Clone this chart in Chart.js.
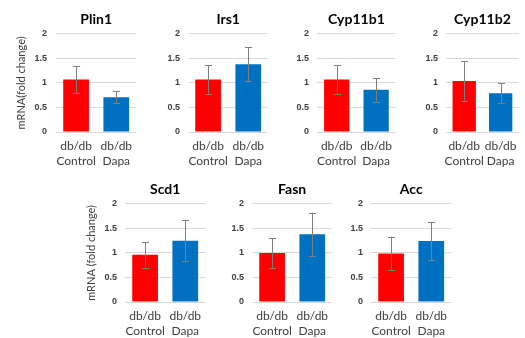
<!DOCTYPE html>
<html>
<head>
<meta charset="utf-8">
<script src="https://cdn.jsdelivr.net/npm/chart.js@4/dist/chart.umd.min.js"></script>
<style>
  html, body { margin: 0; padding: 0; background: #ffffff; }
  #wrap { position: relative; width: 525px; height: 338px; overflow: hidden; }
  #wrap canvas { position: absolute; }
</style>
</head>
<body>
<div id="wrap"></div>
<script>
// Gene expression: db/db Control vs db/db Dapa (mean ± SD, fold change)
const genes        = ['Plin1', 'Irs1', 'Cyp11b1', 'Cyp11b2', 'Scd1', 'Fasn', 'Acc'];
const groups       = [['db/db', 'Control'], ['db/db', 'Dapa']];
const controlMeans = [1.07, 1.07, 1.07, 1.04, 0.96, 1.00, 0.99];
const controlErrs  = [0.28, 0.29, 0.29, 0.40, 0.26, 0.30, 0.34];
const dapaMeans    = [0.71, 1.38, 0.86, 0.79, 1.25, 1.38, 1.24];
const dapaErrs     = [0.12, 0.35, 0.24, 0.20, 0.41, 0.44, 0.39];
const yTicks       = [0, 0.5, 1, 1.5, 2];
const yTitles      = ['mRNA(fold change)', null, null, null, 'mRNA (fold change)', null, null];

// Panel placement: canvas left/top, width, y-axis width, tick padding
const panels = [
  { left: 0,   top: 0,   width: 140, axisW: 56, tickPad: 9 },
  { left: 150, top: 0,   width: 122, axisW: 38, tickPad: 8 },
  { left: 279, top: 0,   width: 121, axisW: 38, tickPad: 8 },
  { left: 408, top: 0,   width: 117, axisW: 38, tickPad: 8 },
  { left: 70,  top: 170, width: 139, axisW: 55, tickPad: 8 },
  { left: 214, top: 170, width: 122, axisW: 38, tickPad: 8 },
  { left: 333, top: 170, width: 122, axisW: 38, tickPad: 8 }
];

const RED = '#FF0000';
const BLUE = '#0070C0';
const TEXT = '#404040';

// Draws the SD whiskers from each bar's stored error values
const errorBars = {
  id: 'errorBars',
  afterDatasetsDraw(chart) {
    const ctx = chart.ctx;
    const yScale = chart.scales.y;
    const ds = chart.data.datasets[0];
    const meta = chart.getDatasetMeta(0);
    ctx.save();
    ctx.strokeStyle = '#7f7f7f';
    ctx.lineWidth = 1;
    meta.data.forEach((bar, i) => {
      const v = ds.data[i];
      const e = ds.errors[i];
      const x = Math.round(bar.x) + 0.5;
      const yTop = yScale.getPixelForValue(v + e);
      const yBot = yScale.getPixelForValue(v - e);
      ctx.beginPath();
      ctx.moveTo(x, yTop);
      ctx.lineTo(x, yBot);
      ctx.moveTo(x - 3.5, Math.round(yTop) + 0.5);
      ctx.lineTo(x + 3.5, Math.round(yTop) + 0.5);
      ctx.moveTo(x - 3.5, Math.round(yBot) + 0.5);
      ctx.lineTo(x + 3.5, Math.round(yBot) + 0.5);
      ctx.stroke();
    });
    ctx.restore();
  }
};

const wrap = document.getElementById('wrap');

genes.forEach((gene, i) => {
  const p = panels[i];
  const canvas = document.createElement('canvas');
  canvas.width = p.width;
  canvas.height = 170;
  canvas.style.left = p.left + 'px';
  canvas.style.top = p.top + 'px';
  canvas.style.width = p.width + 'px';
  canvas.style.height = '170px';
  wrap.appendChild(canvas);

  new Chart(canvas, {
    type: 'bar',
    data: {
      labels: groups,
      datasets: [{
        data: [controlMeans[i], dapaMeans[i]],
        errors: [controlErrs[i], dapaErrs[i]],
        backgroundColor: [RED, BLUE],
        borderWidth: 0,
        barPercentage: 0.8,
        categoryPercentage: 0.8
      }]
    },
    options: {
      responsive: false,
      animation: false,
      devicePixelRatio: 1,
      layout: { padding: { left: 0, right: 2, top: 0, bottom: 0 } },
      plugins: {
        legend: { display: false },
        tooltip: { enabled: false },
        title: {
          display: true,
          text: gene,
          fullSize: false,
          color: '#000000',
          font: { family: 'Lato', size: 14, weight: 'bold', lineHeight: 1.2 },
          padding: { top: 11, bottom: 6 }
        }
      },
      scales: {
        x: {
          grid: { display: false, drawTicks: false },
          border: { display: false },
          ticks: {
            color: TEXT,
            padding: 7,
            maxRotation: 0,
            autoSkip: false,
            font: { family: 'Lato', size: 12, lineHeight: 1.25 }
          },
          afterFit(scale) { scale.height = 38; }
        },
        y: {
          min: 0,
          max: 2,
          afterBuildTicks(scale) { scale.ticks = yTicks.map(v => ({ value: v })); },
          grid: { color: '#d9d9d9', drawTicks: false, lineWidth: 1 },
          border: { display: false },
          ticks: {
            color: TEXT,
            padding: p.tickPad,
            font: { family: 'Liberation Sans', size: 9, weight: 'bold' },
            callback: v => String(v)
          },
          title: {
            display: !!yTitles[i],
            text: yTitles[i] || '',
            color: TEXT,
            font: { family: 'Lato', size: 11 },
            padding: { top: 15, bottom: 0 }
          },
          afterFit(scale) { scale.width = p.axisW; }
        }
      }
    },
    plugins: [errorBars]
  });
});
</script>
</body>
</html>
